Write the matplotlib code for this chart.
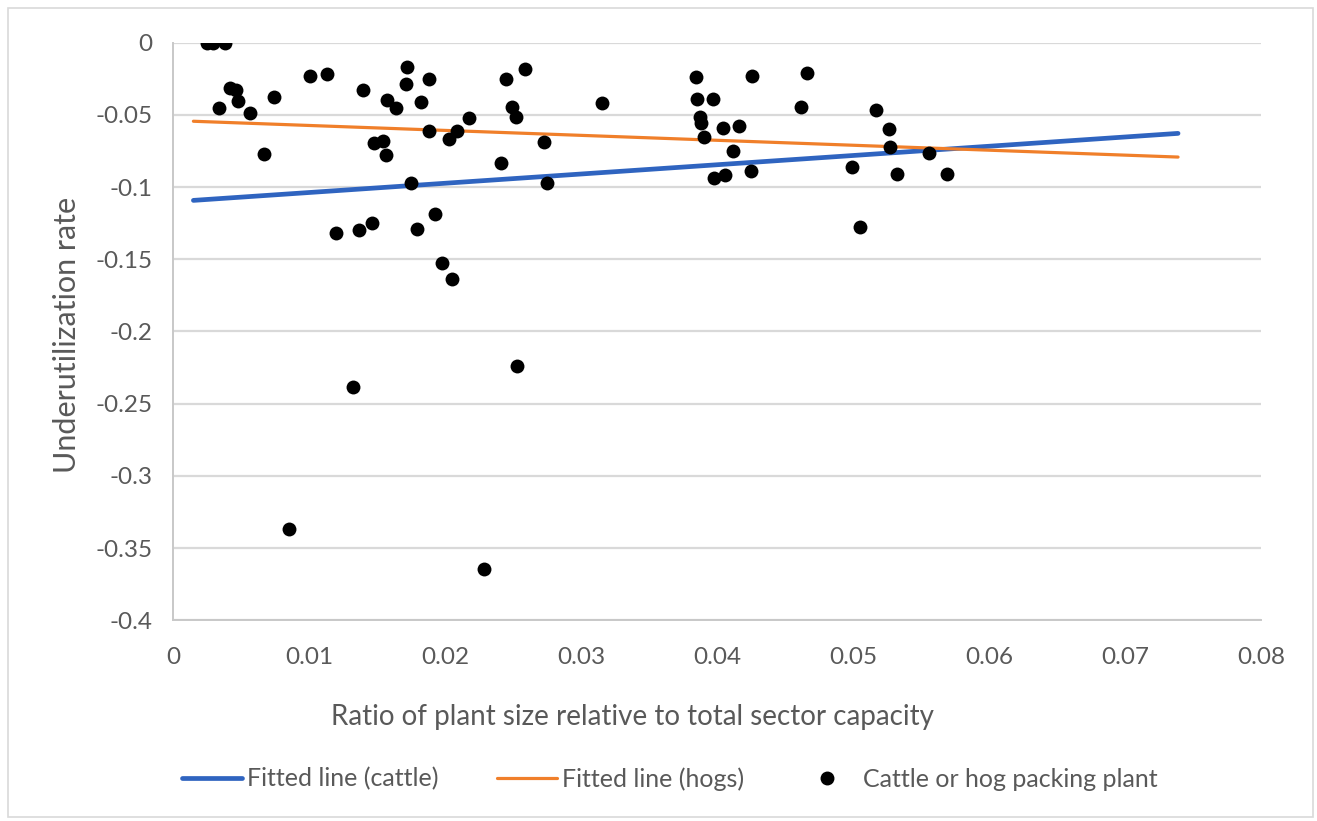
import matplotlib
matplotlib.use("Agg")
import matplotlib.pyplot as plt
from matplotlib.lines import Line2D
from matplotlib.patches import Rectangle
import numpy as np

# ---------------- data ----------------
plant_ratio = [0.00248, 0.00296, 0.00382, 0.00419, 0.00463, 0.00476, 0.00338, 0.00566,
               0.00740, 0.00667, 0.01007, 0.01132, 0.01395, 0.01571, 0.01637, 0.01723,
               0.01711, 0.01882, 0.01821, 0.01480, 0.01546, 0.01566, 0.01882, 0.02030,
               0.02086, 0.02179, 0.02449, 0.02490, 0.02522, 0.02588, 0.02730, 0.02747,
               0.02412, 0.01748, 0.01196, 0.01370, 0.01463, 0.01794, 0.01924, 0.01978,
               0.02051, 0.03157, 0.03846, 0.03851, 0.03968, 0.03875, 0.03882, 0.03907,
               0.04042, 0.04162, 0.04115, 0.03980, 0.04059, 0.04248, 0.04260, 0.04660,
               0.04618, 0.04990, 0.05051, 0.05167, 0.05265, 0.05272, 0.05321, 0.05561,
               0.05689, 0.01326, 0.02532, 0.00855, 0.02287]
underutil = [0.0, 0.0, 0.0, -0.0316, -0.0328, -0.0402, -0.0450, -0.0489,
             -0.0378, -0.0769, -0.0231, -0.0219, -0.0328, -0.0397, -0.0450, -0.0171,
             -0.0286, -0.0252, -0.0408, -0.0697, -0.0678, -0.0778, -0.0609, -0.0669,
             -0.0609, -0.0519, -0.0252, -0.0448, -0.0512, -0.0182, -0.0690, -0.0969,
             -0.0835, -0.0969, -0.1316, -0.1297, -0.1247, -0.1290, -0.1188, -0.1528,
             -0.1636, -0.0415, -0.0240, -0.0390, -0.0390, -0.0512, -0.0554, -0.0651,
             -0.0589, -0.0577, -0.0748, -0.0939, -0.0916, -0.0886, -0.0228, -0.0208,
             -0.0448, -0.0859, -0.1279, -0.0466, -0.0598, -0.0720, -0.0909, -0.0766,
             -0.0909, -0.2387, -0.2239, -0.3368, -0.3645]

fit_x = [0.0015, 0.0739]
fit_cattle_y = [-0.1092, -0.0628]
fit_hogs_y = [-0.0544, -0.0792]

x_ticks = [0, 0.01, 0.02, 0.03, 0.04, 0.05, 0.06, 0.07, 0.08]
x_tick_labels = ["0", "0.01", "0.02", "0.03", "0.04", "0.05", "0.06", "0.07", "0.08"]
y_ticks = [-0.4, -0.35, -0.3, -0.25, -0.2, -0.15, -0.1, -0.05, 0]
y_tick_labels = ["-0.4", "-0.35", "-0.3", "-0.25", "-0.2", "-0.15", "-0.1", "-0.05", "0"]

legend_labels = ["Fitted line (cattle)", "Fitted line (hogs)", "Cattle or hog packing plant"]
x_label = "Ratio of plant size relative to total sector capacity"
y_label = "Underutilization rate"

# ---------------- style ----------------
W, H = 1317, 821
plt.rcParams['font.family'] = ['Lato', 'DejaVu Sans']
TXT = "#595959"
GRID = "#d9d9d9"
BLUE = "#2F64C0"
ORANGE = "#F07F2A"
TICK_FS = 17.5
XLAB_FS = 20
YLAB_FS = 22
LEG_FS = 18

fig = plt.figure(figsize=(W / 100, H / 100), dpi=100)
fig.patches.append(Rectangle((8 / W, 1 - 817 / H), (1313 - 8) / W, (817 - 8) / H,
                             transform=fig.transFigure, fill=False,
                             edgecolor=GRID, linewidth=1.2))

ax = fig.add_axes([173 / W, 1 - 620.3 / H, (1261 - 173) / W, (620.3 - 42.7) / H])
ax.set_xlim(0, 0.08)
ax.set_ylim(-0.4, 0)

ax.plot(fit_x, fit_cattle_y, color=BLUE, linewidth=3.4, solid_capstyle='round', zorder=3)
ax.plot(fit_x, fit_hogs_y, color=ORANGE, linewidth=2.3, solid_capstyle='round', zorder=4)
ax.scatter(plant_ratio, underutil, s=100, color="black", zorder=5, linewidths=0)

ax.set_xticks(x_ticks)
ax.set_xticklabels(x_tick_labels)
ax.set_yticks(y_ticks)
ax.set_yticklabels(y_tick_labels)
ax.tick_params(axis='both', length=0, labelsize=TICK_FS, labelcolor=TXT)
ax.tick_params(axis='y', pad=15)
ax.tick_params(axis='x', pad=19)
ax.grid(axis='y', color=GRID, linewidth=1.6, zorder=0)
ax.set_axisbelow(True)
for s in ['top', 'right']:
    ax.spines[s].set_visible(False)
for s in ['left', 'bottom']:
    ax.spines[s].set_color("#c8c8c8")
    ax.spines[s].set_linewidth(1.4)
ax.spines['left'].set_zorder(1)

fig.text(632 / W, 1 - 717 / H, x_label, ha='center', va='center',
         fontsize=XLAB_FS, color=TXT)
fig.text(67 / W, 1 - 335 / H, y_label, ha='center', va='center', rotation=90,
         fontsize=YLAB_FS, color=TXT)

# ---------------- legend ----------------
fs_px = LEG_FS * 100 / 72
leg_y = 1 - 779 / H
handles = [Line2D([], [], color=BLUE, linewidth=3.4, solid_capstyle='round'),
           Line2D([], [], color=ORANGE, linewidth=2.3, solid_capstyle='round'),
           Line2D([], [], color='black', marker='o', linestyle='None', markersize=9)]
starts = [182, 497, 797]
pads = [5, 5, 6]
for h, lab, x0, p in zip(handles, legend_labels, starts, pads):
    leg = fig.legend([h], [lab], loc='center left', bbox_to_anchor=(x0 / W, leg_y),
                     frameon=False, fontsize=LEG_FS, borderpad=0, borderaxespad=0,
                     handlelength=60 / fs_px, handletextpad=p / fs_px, labelcolor=TXT)

fig.savefig("out.png", dpi=100, facecolor="white")
